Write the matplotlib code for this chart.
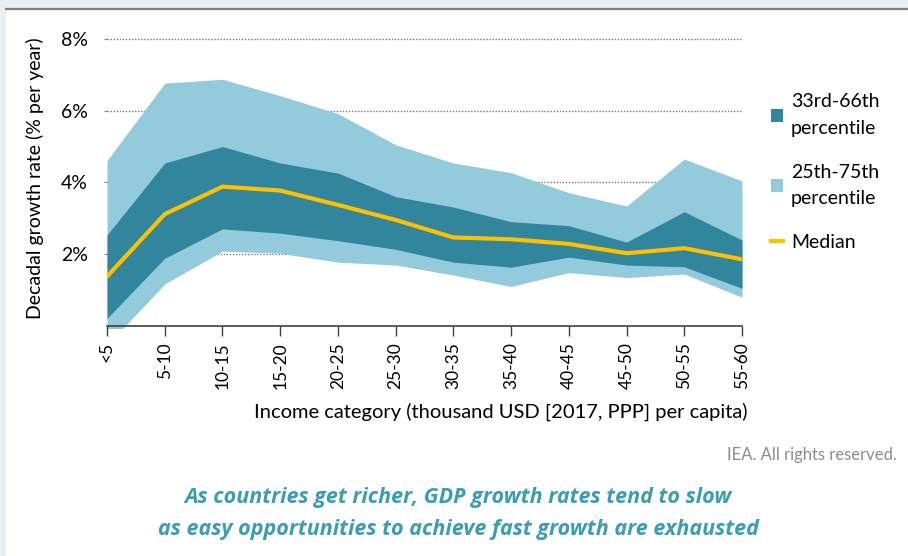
import numpy as np
import matplotlib
matplotlib.use('Agg')
import matplotlib.pyplot as plt
from matplotlib.patches import Rectangle
from matplotlib.lines import Line2D

plt.rcParams['font.family'] = ['Lato', 'DejaVu Sans']

categories = ['<5', '5-10', '10-15', '15-20', '20-25', '25-30', '30-35',
              '35-40', '40-45', '45-50', '50-55', '55-60']
p25 = [-0.55, 1.16, 2.08, 2.02, 1.77, 1.69, 1.41, 1.09, 1.48, 1.34, 1.44, 0.79]
p33 = [0.20, 1.88, 2.70, 2.58, 2.37, 2.13, 1.77, 1.63, 1.91, 1.69, 1.64, 1.04]
median = [1.37, 3.11, 3.88, 3.77, 3.37, 2.95, 2.46, 2.41, 2.28, 2.02, 2.16, 1.85]
p66 = [2.53, 4.54, 5.00, 4.54, 4.26, 3.60, 3.31, 2.90, 2.79, 2.33, 3.18, 2.39]
p75 = [4.61, 6.77, 6.88, 6.42, 5.92, 5.05, 4.54, 4.27, 3.71, 3.34, 4.65, 4.04]
yticks = [2, 4, 6, 8]

dark = '#31859c'
light = '#93cbdc'
gold = '#ffc000'

fig = plt.figure(figsize=(9.08, 5.56), dpi=100)
fig.patch.set_facecolor('#e9eff3')
# white panel and grey top rule
fig.patches.append(Rectangle((6 / 908, 0), 1, 1 - 10 / 556, transform=fig.transFigure,
                             facecolor='white', edgecolor='none', zorder=-5))
fig.lines.append(Line2D([6 / 908, 1], [1 - 9 / 556, 1 - 9 / 556], transform=fig.transFigure,
                        color='#7f7f7f', lw=1.6, zorder=-4))

ax = fig.add_axes([107 / 908, 1 - 328.4 / 556, 635 / 908, 300 / 556])
ax.set_facecolor('none')
x = np.arange(len(categories))

for v in yticks:
    ax.axhline(v, color='#777777', lw=1.0, ls=(0, (1, 1.2)), zorder=0)

ax.fill_between(x, p25, p75, color=light, lw=0, zorder=1, label='25th-75th\npercentile')
ax.fill_between(x, p33, p66, color=dark, lw=0, zorder=2, label='33rd-66th\npercentile')
ax.plot(x, median, color=gold, lw=3, zorder=3, label='Median', solid_joinstyle='miter')

for s in ['top', 'right', 'left']:
    ax.spines[s].set_visible(False)
ax.spines['bottom'].set_position(('data', 0))
ax.spines['bottom'].set_color('#404040')
ax.spines['bottom'].set_linewidth(1.2)
ax.spines['bottom'].set_zorder(4)

ax.set_xlim(0, 11)
ax.set_ylim(-0.08, 8.3)
ax.set_xticks(x)
ax.set_xticklabels(categories, rotation=90, fontsize=12.5)
ax.set_yticks(yticks)
ax.set_yticklabels([f'{v}%' for v in yticks], fontsize=14)
ax.tick_params(axis='x', length=7, width=1, color='#404040', pad=5)
ax.tick_params(axis='y', length=2, width=0.8, color='#808080', pad=12)

ax.set_ylabel('Decadal growth rate (% per year)', fontsize=14, labelpad=12)
fig.text(748 / 908, 1 - 412 / 556, 'Income category (thousand USD [2017, PPP] per capita)',
         ha='right', va='center', fontsize=14.5)

handles, labels = ax.get_legend_handles_labels()
order = [1, 0, 2]
leg = fig.legend([handles[i] for i in order], [labels[i] for i in order],
                 loc='upper left', bbox_to_anchor=(753 / 908, 1 - 76 / 556),
                 frameon=False, fontsize=14, handlelength=0.65, handleheight=0.65,
                 handletextpad=0.4, labelspacing=1.35)
for t in leg.get_texts():
    t.set_linespacing(1.7)

fig.text(897 / 908, 1 - 455 / 556, 'IEA. All rights reserved.', ha='right', va='center',
         fontsize=12, color='#8c8c8c')
fig.text(458 / 908, 1 - 498 / 556, 'As countries get richer, GDP growth rates tend to slow',
         ha='center', va='center', fontsize=15.5, color='#3a9db3',
         fontweight='bold', fontstyle='italic', family=['Open Sans', 'DejaVu Sans'])
fig.text(458 / 908, 1 - 530 / 556, 'as easy opportunities to achieve fast growth are exhausted',
         ha='center', va='center', fontsize=15.5, color='#3a9db3',
         fontweight='bold', fontstyle='italic', family=['Open Sans', 'DejaVu Sans'])

fig.savefig('out.png', dpi=100, facecolor=fig.get_facecolor())
